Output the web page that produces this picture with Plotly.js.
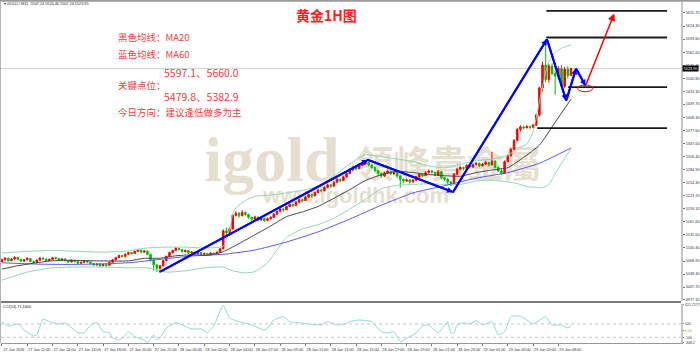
<!DOCTYPE html>
<html><head><meta charset="utf-8">
<script src="https://cdn.plot.ly/plotly-3.0.1.min.js"></script>
<style>html,body{margin:0;padding:0;background:#fff;}#chart{width:700px;height:352px;}</style>
</head><body><div id="chart"></div>
<script>
// ---------- DATA (15-minute bars) ----------
const opens = [
5068,5072,5076,5070,5074,5078,5073,5069,5072,5075,
5068,5066,5071,5076,5074,5070,5073,5077,5075,5071,
5074,5070,5067,5071,5068,5064,5066,5070,5067,5063,
5060,5062,5058,5061,5059,5066,5072,5077,5082,5080,
5085,5089,5087,5092,5095,5090,5093,5085,5072,5060,
5052,5058,5070,5080,5089,5094,5099,5096,5091,5094,
5088,5090,5086,5089,5085,5087,5084,5088,5086,5090,
5098,5140,5136,5145,5177,5182,5176,5184,5179,5172,
5168,5173,5166,5170,5165,5169,5172,5180,5186,5192,
5190,5198,5203,5200,5208,5214,5212,5220,5226,5223,
5231,5237,5235,5243,5249,5246,5255,5262,5259,5268,
5276,5284,5290,5287,5295,5299,5302,5296,5290,5283,
5276,5270,5277,5281,5275,5279,5270,5262,5258,5261,
5256,5260,5268,5274,5271,5278,5282,5279,5272,5280,
5266,5262,5256,5252,5274,5286,5290,5288,5295,5291,
5297,5300,5294,5298,5302,5296,5305,5290,5282,5276,
5304,5318,5333,5354,5380,5386,5384,5387,5385,5390,
5414,5478,5532,5498,5530,5512,5506,5524,5482,5522,5507.24];
const highs = [
5075,5078,5077,5076,5080,5079,5075,5074,5078,5076,
5070,5073,5079,5078,5075,5075,5079,5079,5076,5076,
5075,5071,5073,5072,5069,5068,5072,5071,5068,5064,
5064,5063,5063,5062,5068,5074,5079,5084,5083,5087,
5091,5090,5094,5098,5096,5095,5094,5086,5074,5062,
5060,5072,5082,5091,5096,5102,5101,5098,5096,5095,
5093,5091,5091,5090,5089,5088,5090,5089,5092,5100,
5144,5148,5149,5180,5187,5185,5189,5186,5181,5174,
5176,5174,5173,5171,5172,5175,5182,5189,5195,5194,
5200,5206,5205,5211,5217,5216,5223,5229,5228,5234,
5240,5239,5246,5252,5251,5258,5265,5264,5271,5279,
5287,5294,5293,5299,5303,5308,5305,5298,5292,5285,
5278,5280,5285,5283,5282,5280,5272,5264,5264,5262,
5263,5270,5277,5276,5281,5285,5284,5280,5284,5282,
5268,5265,5258,5277,5289,5293,5292,5298,5297,5300,
5303,5302,5301,5306,5304,5327,5307,5292,5286,5307,
5321,5336,5357,5383,5390,5389,5390,5389,5393,5417,
5481,5540,5594,5535,5536,5518,5530,5532,5528,5530,5524.46];
const lows = [
5066,5070,5068,5069,5072,5071,5066,5067,5071,5066,
5062,5065,5070,5072,5068,5069,5072,5073,5069,5070,
5068,5064,5066,5066,5061,5063,5065,5065,5061,5057,
5058,5055,5057,5055,5058,5065,5071,5076,5077,5079,
5084,5084,5086,5091,5088,5089,5083,5068,5046,5043,
5048,5056,5069,5079,5087,5093,5094,5089,5090,5086,
5087,5084,5085,5083,5084,5082,5083,5084,5085,5089,
5097,5131,5134,5143,5174,5172,5175,5176,5169,5164,
5166,5163,5164,5161,5163,5167,5171,5178,5184,5186,
5189,5196,5196,5199,5206,5208,5211,5219,5219,5222,
5229,5231,5234,5241,5242,5245,5254,5255,5258,5266,
5274,5282,5283,5286,5293,5297,5293,5287,5280,5272,
5266,5268,5275,5272,5273,5265,5242,5253,5256,5252,
5254,5259,5266,5268,5270,5276,5276,5269,5271,5262,
5258,5250,5246,5250,5272,5284,5283,5287,5288,5290,
5295,5291,5293,5296,5293,5295,5288,5279,5272,5275,
5302,5316,5331,5352,5375,5380,5382,5381,5383,5388,
5410,5470,5492,5490,5508,5462,5498,5478,5478,5500,5507.24];
const closes = [
5072,5076,5070,5074,5078,5073,5069,5072,5075,5068,
5066,5071,5076,5074,5070,5073,5077,5075,5071,5074,
5070,5067,5071,5068,5064,5066,5070,5067,5063,5060,
5062,5058,5061,5059,5066,5072,5077,5082,5080,5085,
5089,5087,5092,5095,5090,5093,5085,5072,5060,5052,
5058,5070,5080,5089,5094,5099,5096,5091,5094,5088,
5090,5086,5089,5085,5087,5084,5088,5086,5090,5098,
5140,5136,5145,5177,5182,5176,5184,5179,5172,5168,
5173,5166,5170,5165,5169,5172,5180,5186,5192,5190,
5198,5203,5200,5208,5214,5212,5220,5226,5223,5231,
5237,5235,5243,5249,5246,5255,5262,5259,5268,5276,
5284,5290,5287,5295,5299,5302,5296,5290,5283,5276,
5270,5277,5281,5275,5279,5270,5262,5258,5261,5256,
5260,5268,5274,5271,5278,5282,5279,5272,5280,5266,
5262,5256,5252,5274,5286,5290,5288,5295,5291,5297,
5300,5294,5298,5302,5296,5305,5290,5282,5276,5304,
5318,5333,5354,5380,5386,5384,5387,5385,5390,5414,
5478,5532,5498,5530,5512,5506,5524,5482,5522,5507.24,5523.95];

const timeTickIdx = [0,8,16,24,32,40,48,56,64,72,80,88,96,104,112,120,128,136,144,152,160,168,176];
const timeTickText = ["27 Jan 2026","27 Jan 12:00","27 Jan 14:00","27 Jan 16:00","27 Jan 18:00","27 Jan 20:00","27 Jan 22:00",
  "28 Jan 00:00","28 Jan 02:00","28 Jan 04:00","28 Jan 07:00","28 Jan 09:00","28 Jan 11:00","28 Jan 13:00","28 Jan 15:00",
  "28 Jan 17:00","28 Jan 19:00","28 Jan 21:00","28 Jan 23:00","29 Jan 01:00","29 Jan 03:00","29 Jan 05:00","29 Jan 08:00"];

const priceTicks = [5655.70,5624.30,5593.60,5562.00,5531.40,5500.80,5470.30,5439.70,5408.30,5377.60,5347.00,5316.40,
  5284.90,5254.30,5223.70,5193.10,5161.60,5131.00,5100.40,5068.90,5038.30,5007.70,4977.10];

const ma20Idx = [0,5,10,15,20,30,40,45,50,55,60,65,70,75,80,85,90,95,100,105,110,115,120,125,130,135,140,145,150,155,160,165,170,175,180];
const ma20Val = [5050,5058,5064,5069,5071,5069.5,5069.4,5075.4,5075.7,5081.5,5083.8,5082.5,5091,5110.4,5131,5151.8,5174,5185,5198,5217.4,
  5237.6,5259.4,5273,5281,5278,5273.4,5270.6,5269.4,5278,5284.2,5289.7,5313.7,5342.8,5397,5451.4];
const ma60Idx = [0,10,20,30,40,50,60,70,80,90,100,110,120,130,140,150,160,170,180];
const ma60Val = [5065,5062,5061,5062,5065,5073,5081,5085,5095,5114,5138,5168,5201,5230,5247,5265,5278,5300,5336];
const bbUpIdx = [0,8,16,24,32,40,46,52,58,64,70,72,73,74,77,80,85,90,95,100,105,110,115,120,125,130,135,140,145,150,155,160,163,166,168,170,172,173,175,177,180];
const bbUpVal = [5088,5092,5094,5092,5090,5093,5100,5102,5102,5100,5104,5145,5180,5195,5212,5222,5225,5230,5236,5246,5270,5298,5320,5315,5310,
  5304,5294,5289,5298,5306,5310,5318,5335,5345,5375,5445,5515,5540,5562,5572,5580];
const bbLoIdx = [0,8,16,24,32,40,46,52,58,64,70,73,77,80,84,87,90,95,100,105,110,115,120,125,130,135,140,145,150,155,160,163,166,169,171,173,175,177,180];
const bbLoVal = [5024,5043,5053,5055,5055,5053,5053,5043,5046,5053,5055,5046,5041,5044,5065,5095,5125,5145,5155,5170,5192,5215,5240,5248,5250,
  5252,5250,5250,5258,5260,5256,5252,5245,5243,5242,5250,5275,5300,5335];

const cciIdx = [0,2,5,7,10,11,13,15,18,20,24,26,28,30,32,34,35,37,38,40,42,43,45,46,48,49,50,52,55,57,60,63,65,67,70,72,75,79,83,84,
  86,89,91,94,97,101,103,106,109,110,113,117,120,122,124,126,129,131,133,135,138,141,142,143,144,146,148,150,152,155,157,159,161,164,166,168,171,172,174,177,179,180];
const cciVal = [135,70,100,10,-80,-65,175,135,100,115,-31,-35,85,120,-16,-31,-110,-140,-125,-16,-91,-110,-140,-180,-65,-140,-110,40,120,85,
  25,25,-31,70,385,190,135,85,10,40,160,210,135,120,100,85,135,85,110,135,160,135,-16,-35,-16,-166,-91,-35,70,85,-35,135,-35,-35,85,120,100,150,85,135,
  -65,-16,210,220,160,100,186,210,85,85,40,71.1];

// analysis objects drawn on the chart
const swingIdx = [49.8,115.8,142.7,172.4,178.5,181.6,184.6];
const swingVal = [5043,5308,5232,5593,5448,5524,5483];
const targetIdx = 193.7, targetVal = 5654;
const keyLevels = [5660.0,5597.1,5479.8,5382.9];
const keyLevelFrom = [172.2,172.2,179.1,169.3];
const keyLevelTo = 210.4;
const markIdx = 184.5, markVal = 5477;

// ---------- CHART ----------
const barIdx = closes.map((c,i)=>i);
const last = closes[closes.length-1];
const YR = [4974.7,5681];
const cjk = '"Noto Sans CJK SC", sans-serif';
const small = 3.8;
const wm = '#e6dfcf';

const traces = [
  {type:'scatter',mode:'text',x:[85.4],y:[5296],text:['igold'],xaxis:'x',yaxis:'y',hoverinfo:'skip',
   textfont:{family:'"Liberation Serif", serif',size:64,color:wm,weight:'bold'}},
  {type:'scatter',mode:'text',x:[141.3],y:[5287],text:['領峰貴金屬'],xaxis:'x',yaxis:'y',hoverinfo:'skip',
   textfont:{family:'"Noto Sans CJK TC", sans-serif',size:37,color:wm,weight:'bold'}},
  {type:'scatter',mode:'text',x:[112],y:[5219],text:['www.igoldhk.com'],xaxis:'x',yaxis:'y',hoverinfo:'skip',
   textfont:{family:'"Liberation Sans", sans-serif',size:22,color:wm,weight:'bold'}},
  {type:'candlestick',x:barIdx,open:opens,high:highs,low:lows,close:closes,xaxis:'x',yaxis:'y3',whiskerwidth:0,
   increasing:{line:{color:'#ff0000',width:1},fillcolor:'#ff0000'},
   decreasing:{line:{color:'#00c000',width:1},fillcolor:'#00c000'},hoverinfo:'skip'},
  {type:'scatter',mode:'lines',x:bbUpIdx,y:bbUpVal,xaxis:'x',yaxis:'y3',line:{color:'#8fd6b0',width:1,shape:'spline',smoothing:0.5},hoverinfo:'skip'},
  {type:'scatter',mode:'lines',x:bbLoIdx,y:bbLoVal,xaxis:'x',yaxis:'y3',line:{color:'#8fd6b0',width:1,shape:'spline',smoothing:0.5},hoverinfo:'skip'},
  {type:'scatter',mode:'lines',x:ma60Idx,y:ma60Val,xaxis:'x',yaxis:'y3',line:{color:'#5a5aff',width:1,shape:'spline',smoothing:0.5},hoverinfo:'skip'},
  {type:'scatter',mode:'lines',x:ma20Idx,y:ma20Val,xaxis:'x',yaxis:'y3',line:{color:'#444444',width:1,shape:'spline',smoothing:0.5},hoverinfo:'skip'},
  {type:'scatter',mode:'lines',x:swingIdx,y:swingVal,xaxis:'x',yaxis:'y3',line:{color:'#0000ff',width:2},hoverinfo:'skip'},
  {type:'scatter',mode:'lines',x:cciIdx,y:cciVal,xaxis:'x',yaxis:'y2',line:{color:'#86ddd4',width:1,shape:'spline',smoothing:0.4},hoverinfo:'skip'}
];

const shapes = [];
shapes.push({type:'line',xref:'paper',x0:0,x1:1,yref:'y',y0:last,y1:last,line:{color:'#d6d6d6',width:1},layer:'below'});
keyLevels.forEach((lv,k)=>shapes.push({type:'line',xref:'x',yref:'y',x0:keyLevelFrom[k],x1:keyLevelTo,y0:lv,y1:lv,line:{color:'#1a1a1a',width:1.8}}));
shapes.push({type:'circle',xref:'x',yref:'y',x0:markIdx-2.4,x1:markIdx+2.4,y0:markVal-8,y1:markVal+8,line:{color:'#ff0000',width:1}});
[100,-100].forEach(v=>shapes.push({type:'line',xref:'paper',x0:0,x1:1,yref:'y2',y0:v,y1:v,line:{color:'#c4c4c4',width:1,dash:'dot'}}));
shapes.push({type:'line',xref:'paper',yref:'paper',x0:0,x1:1,y0:0.1202,y1:0.1202,line:{color:'#7a7a7a',width:2}});
shapes.push({type:'line',xref:'paper',yref:'paper',x0:-0.01,x1:1.03,y0:1.004,y1:1.004,line:{color:'#9a9a9a',width:2}});
shapes.push({type:'line',xref:'paper',yref:'paper',x0:-0.0008,x1:-0.0008,y0:0,y1:1.004,line:{color:'#b0b0b0',width:1}});

const annotations = [];
const px = v => (v-1)/680, py = v => (343-v)/341;
annotations.push({xref:'paper',yref:'paper',x:px(2),y:py(4),xanchor:'left',yanchor:'middle',showarrow:false,
  text:'▾ GOLD#,M15  '+opens[opens.length-1].toFixed(2)+' '+highs[highs.length-1].toFixed(2)+' '+lows[lows.length-1].toFixed(2)+' '+last.toFixed(2),
  font:{size:small,color:'#222'}});
annotations.push({xref:'paper',yref:'paper',x:px(1),y:py(306.5),xanchor:'left',yanchor:'middle',showarrow:false,
  text:'CCI(14) '+cciVal[cciVal.length-1].toFixed(4),font:{size:small,color:'#222'}});
annotations.push({xref:'paper',yref:'paper',x:px(326),y:py(15),xanchor:'center',yanchor:'middle',showarrow:false,
  text:'黄金1H图',font:{family:cjk,size:14,color:'#ff1e1e',weight:600}});
const red = '#f23c3c';
const lines = [
  ['黑色均线：MA20',116,37,9.5],
  ['蓝色均线：MA60',116,54,9.5],
  [keyLevels[1].toFixed(1)+'、'+keyLevels[0].toFixed(1),162,72,10.5],
  ['关键点位：',116,85,9.5],
  [keyLevels[2].toFixed(1)+'、'+keyLevels[3].toFixed(1),162,96.5,10.5],
  ['今日方向：建议逢低做多为主',116,112,9.5]
];
lines.forEach(l=>annotations.push({xref:'paper',yref:'paper',x:px(l[1]),y:py(l[2]),xanchor:'left',yanchor:'middle',showarrow:false,
  text:l[0],font:{family:cjk,size:l[3],color:red}}));
annotations.push({xref:'paper',yref:'y',x:1,y:last,xanchor:'left',yanchor:'middle',xshift:1,showarrow:false,
  text:last.toFixed(2),font:{size:small,color:'#ffffff'},bgcolor:'#000000',borderpad:0.7});
for(let k=0;k<swingIdx.length-1;k++){
  annotations.push({xref:'x',yref:'y',axref:'x',ayref:'y',x:swingIdx[k+1],y:swingVal[k+1],ax:swingIdx[k],ay:swingVal[k],
    text:'',showarrow:true,arrowhead:2,arrowsize:0.6,arrowwidth:2,arrowcolor:'#0000ff',standoff:0});
}
annotations.push({xref:'x',yref:'y',axref:'x',ayref:'y',x:targetIdx,y:targetVal,ax:swingIdx[swingIdx.length-1],ay:swingVal[swingVal.length-1],
  text:'',showarrow:true,arrowhead:2,arrowsize:1,arrowwidth:1.5,arrowcolor:'#ff0000',standoff:0});

const layout = {
  width:700,height:352,margin:{l:1,r:19,t:2,b:9,pad:0},
  paper_bgcolor:'#ffffff',plot_bgcolor:'#ffffff',showlegend:false,
  font:{family:'"Liberation Sans", Arial, sans-serif',size:small,color:'#333'},
  xaxis:{range:[-0.3,214.8],anchor:'y2',showgrid:false,zeroline:false,tickmode:'array',tickvals:timeTickIdx,ticktext:timeTickText,
    ticks:'outside',ticklen:2,tickcolor:'#777',tickfont:{size:small,color:'#333'},ticklabelshift:12,
    showline:true,linecolor:'#9a9a9a',linewidth:1,rangeslider:{visible:false},fixedrange:true},
  yaxis:{domain:[0.1232,1],range:YR,side:'right',anchor:'x',showgrid:false,zeroline:false,tickmode:'array',tickvals:priceTicks,
    ticktext:priceTicks.map(v=>v.toFixed(2)),ticks:'outside',ticklen:2,tickcolor:'#777',tickfont:{size:small,color:'#333'},
    showline:true,linecolor:'#c6c6c6',linewidth:2,fixedrange:true},
  yaxis3:{overlaying:'y',range:YR,visible:false,fixedrange:true},
  yaxis2:{domain:[0,0.1144],range:[-186,401],side:'right',anchor:'x',showgrid:false,zeroline:false,tickmode:'array',
    tickvals:[392,100,0,-100,-183],ticktext:['415.7177','100','<span style="color:#c99a00">0.00</span>','-100','-348.2'],
    ticks:'outside',ticklen:1,tickcolor:'#777',tickfont:{size:3.6,color:'#333'},showline:true,linecolor:'#c6c6c6',linewidth:2,fixedrange:true},
  shapes:shapes,annotations:annotations
};
Plotly.newPlot('chart',traces,layout,{staticPlot:true,displayModeBar:false});
</script></body></html>
